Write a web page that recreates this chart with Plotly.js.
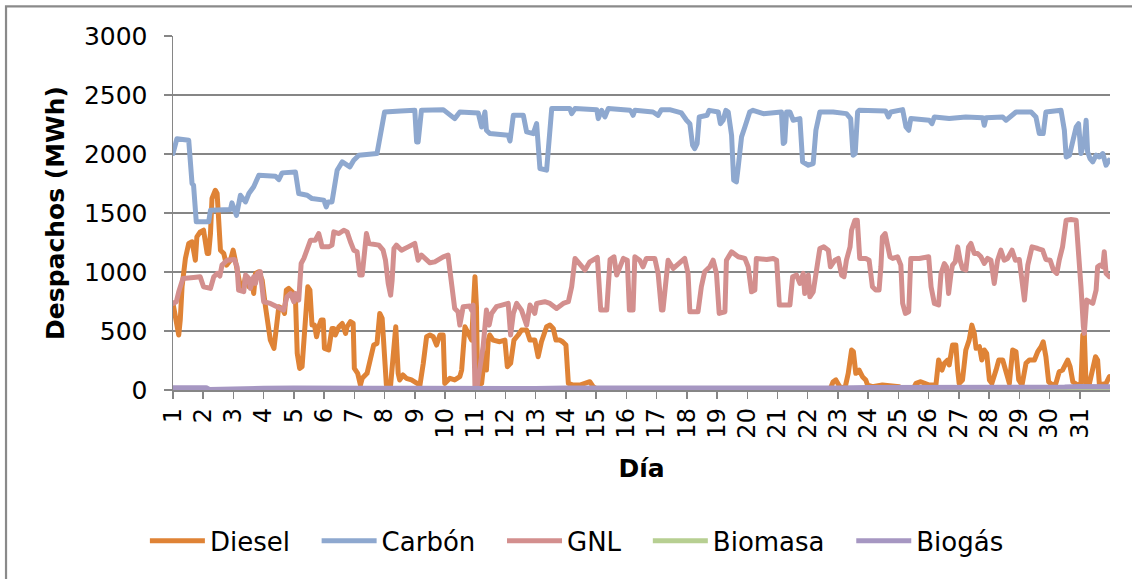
<!DOCTYPE html>
<html>
<head>
<meta charset="utf-8">
<script src="https://cdn.plot.ly/plotly-3.0.1.min.js"></script>
<style>
  html, body { margin: 0; padding: 0; background: #ffffff; }
  #chart { width: 1132px; height: 579px; }
  #chart .scatterlayer path.js-line { stroke-linejoin: round; stroke-linecap: round; }
</style>
</head>
<body>
<div id="chart"></div>
<script>
// Despachos horarios por tecnología durante el mes (eje x en días)

const dias = [1,2,3,4,5,6,7,8,9,10,11,12,13,14,15,16,17,18,19,20,21,22,23,24,25,26,27,28,29,30,31];

const diaDiesel = [1.00,1.04,1.13,1.19,1.24,1.30,1.41,1.52,1.63,1.68,1.74,1.79,1.90,2.01,2.13,2.18,2.24,2.29,2.40,2.46,2.51,2.57,2.68,2.77,2.90,2.99,3.06,3.17,3.23,3.34,3.40,3.51,3.62,3.67,3.73,3.84,3.95,4.06,4.11,4.22,4.34,4.42,4.50,4.61,4.69,4.75,4.83,4.94,5.05,5.11,5.19,5.27,5.38,5.46,5.53,5.60,5.68,5.75,5.82,5.90,5.97,6.01,6.15,6.26,6.32,6.37,6.49,6.60,6.71,6.76,6.87,6.96,7.00,7.11,7.20,7.26,7.42,7.53,7.64,7.75,7.84,7.92,8.00,8.06,8.20,8.28,8.37,8.45,8.50,8.61,8.72,8.89,9.06,9.17,9.28,9.39,9.50,9.61,9.72,9.83,9.94,9.99,10.16,10.32,10.49,10.55,10.66,10.77,10.88,10.99,11.04,11.08,11.21,11.32,11.37,11.43,11.48,11.59,11.81,11.98,12.06,12.17,12.28,12.42,12.53,12.70,12.81,12.97,13.08,13.19,13.36,13.47,13.58,13.67,13.80,13.89,14.00,14.08,14.24,14.46,14.68,14.79,14.90,15.07,16,17,18,19,20,21,22,22.73,22.84,22.93,23.06,23.23,23.34,23.45,23.51,23.59,23.70,23.81,23.92,23.98,24.14,24.47,25.03,25.14,25.47,25.58,25.74,26.02,26.24,26.33,26.44,26.52,26.63,26.68,26.79,26.90,26.96,27.01,27.12,27.23,27.34,27.43,27.51,27.57,27.68,27.76,27.84,27.92,28.01,28.09,28.23,28.32,28.45,28.56,28.67,28.78,28.89,28.98,29.09,29.22,29.33,29.50,29.61,29.72,29.79,29.88,29.97,30.10,30.21,30.32,30.43,30.60,30.68,30.77,30.93,31.04,31.10,31.15,31.21,31.32,31.43,31.52,31.59,31.65,31.87,31.93,31.98];
const mwhDiesel = [734,677,494,466,593,875,1115,1242,1256,1157,1100,1298,1340,1354,1157,1157,1326,1623,1693,1665,1439,1185,1157,1058,1100,1185,1100,945,875,889,960,875,903,818,988,1002,931,706,607,423,353,536,706,691,649,847,861,833,790,310,183,197,677,875,847,550,550,451,536,593,593,353,339,522,522,466,536,564,480,536,579,564,183,141,42,99,141,254,381,395,649,607,310,42,42,310,536,141,85,127,99,85,56,42,226,451,466,451,381,466,466,56,99,85,113,169,536,480,423,960,706,28,56,310,169,423,466,423,409,423,198,226,423,466,508,508,423,423,282,409,536,550,522,423,423,409,381,56,42,42,56,70,28,0,0,0,0,0,0,0,0,0,70,85,28,14,141,339,325,141,169,113,85,42,28,42,28,0,0,56,70,42,42,254,169,226,254,212,381,381,169,56,85,339,423,550,480,353,367,254,339,310,85,56,169,254,254,141,56,339,325,85,42,226,254,254,325,367,409,282,70,42,56,155,169,254,198,70,42,56,466,480,28,56,169,282,254,42,56,99,113];

const diaCarbon = [1.00,1.13,1.52,1.63,1.68,1.77,2.18,2.24,2.90,2.95,3.10,3.23,3.40,3.51,3.67,3.84,4.39,4.50,4.61,5.05,5.16,5.44,5.60,5.99,6.07,6.13,6.26,6.43,6.60,6.85,6.98,7.15,7.75,7.87,8.00,8.53,9.00,9.06,9.11,9.22,9.94,10.32,10.49,11.10,11.21,11.32,11.37,11.48,12.09,12.15,12.26,12.59,12.70,12.92,13.03,13.14,13.36,13.53,14.13,14.19,14.30,15.02,15.07,15.18,15.29,15.40,16.12,16.17,16.22,16.28,16.88,17.05,17.16,17.43,17.82,17.99,18.10,18.19,18.26,18.34,18.41,18.67,18.74,19.04,19.11,19.20,19.29,19.37,19.48,19.55,19.64,19.70,19.81,19.92,20.08,20.19,20.53,21.13,21.19,21.24,21.30,21.41,21.52,21.74,21.83,22.02,22.18,22.27,22.40,22.84,23.28,23.42,23.50,23.57,23.65,23.70,24.58,24.67,24.75,25.14,25.25,25.34,25.41,26.02,26.11,26.19,26.68,27.23,27.79,27.84,27.90,28.45,28.56,28.89,29.39,29.55,29.66,29.79,29.88,30.38,30.49,30.55,30.66,30.88,30.96,31.04,31.15,31.21,31.26,31.34,31.43,31.54,31.65,31.76,31.87,31.97];
const mwhCarbon = [2004,2130,2116,1750,1736,1425,1425,1524,1530,1586,1480,1650,1594,1665,1722,1820,1812,1783,1840,1848,1665,1651,1622,1609,1552,1594,1594,1862,1933,1891,1947,1990,2004,2201,2356,2365,2370,2102,2102,2370,2376,2300,2356,2347,2229,2356,2201,2173,2159,2110,2328,2328,2187,2173,2258,1877,1863,2385,2385,2342,2385,2376,2300,2370,2314,2385,2370,2356,2328,2370,2356,2328,2376,2376,2348,2286,2257,2074,2046,2088,2314,2328,2370,2356,2257,2286,2370,2356,2159,1778,1764,1891,2145,2229,2356,2370,2342,2356,2088,2102,2356,2356,2286,2300,1933,1905,1919,2201,2356,2356,2342,2300,1990,2004,2356,2370,2365,2314,2356,2376,2229,2201,2300,2286,2257,2314,2300,2314,2308,2243,2308,2314,2286,2356,2356,2314,2173,2173,2356,2370,2201,1975,1990,2229,2257,2004,2102,2286,2018,1961,1933,1990,1975,2004,1905,1947];

const diaGNL = [1.00,1.11,1.19,1.26,1.33,1.68,1.90,2.01,2.24,2.35,2.46,2.55,2.62,2.79,3.03,3.12,3.17,3.34,3.40,3.51,3.56,3.67,3.73,3.79,3.89,4.00,4.22,4.44,4.66,4.77,4.89,5.00,5.05,5.16,5.24,5.33,5.55,5.71,5.82,5.88,5.93,6.15,6.26,6.32,6.49,6.65,6.76,6.87,6.98,7.09,7.18,7.26,7.34,7.40,7.48,7.81,7.95,8.03,8.12,8.20,8.25,8.31,8.39,8.56,8.78,9.00,9.11,9.22,9.50,9.66,9.94,10.10,10.16,10.27,10.32,10.43,10.49,10.60,10.82,10.88,10.93,10.99,11.06,11.26,11.37,11.46,11.54,11.70,11.98,12.09,12.17,12.26,12.37,12.53,12.70,12.81,12.97,13.03,13.30,13.47,13.69,13.91,14.08,14.19,14.30,14.52,14.63,14.79,15.04,15.15,15.35,15.46,15.59,15.68,15.79,15.90,16.03,16.10,16.22,16.28,16.44,16.55,16.66,16.94,17.05,17.16,17.21,17.38,17.55,17.71,17.93,18.04,18.10,18.37,18.48,18.59,18.76,18.87,18.98,19.07,19.26,19.31,19.48,19.70,19.92,20.03,20.14,20.25,20.30,20.64,20.86,20.97,21.06,21.41,21.50,21.63,21.74,21.85,21.90,22.02,22.07,22.18,22.29,22.40,22.53,22.68,22.75,22.90,23.01,23.12,23.20,23.28,23.40,23.45,23.56,23.64,23.72,23.92,24.03,24.14,24.25,24.36,24.42,24.47,24.56,24.64,24.72,24.81,24.97,25.08,25.14,25.23,25.34,25.41,25.69,26.00,26.08,26.19,26.33,26.41,26.52,26.59,26.66,26.74,26.79,26.88,26.96,27.04,27.12,27.23,27.32,27.40,27.51,27.62,27.73,27.84,27.95,28.06,28.17,28.28,28.39,28.50,28.61,28.76,28.87,29.00,29.09,29.17,29.28,29.42,29.61,29.77,29.88,30.02,30.13,30.24,30.32,30.43,30.55,30.71,30.88,30.96,31.04,31.12,31.15,31.23,31.32,31.43,31.54,31.59,31.67,31.76,31.81,31.87,31.98];
const mwhGNL = [734,748,832,875,945,953,959,875,861,960,988,966,1058,1100,1106,1044,847,833,974,945,861,960,903,988,1002,748,734,706,677,790,818,748,818,762,1072,1115,1270,1270,1326,1270,1213,1213,1228,1340,1326,1354,1340,1256,1185,1171,974,974,1157,1326,1242,1228,1185,1100,903,804,931,1199,1228,1185,1213,1242,1100,1143,1078,1086,1129,1143,1016,762,691,663,550,706,711,677,720,28,28,367,677,550,649,706,720,734,466,649,734,677,550,720,649,734,748,734,691,734,748,875,1115,1044,1016,1086,1123,677,677,1106,1129,974,1044,1115,1100,677,677,1129,1100,1044,1115,1115,988,677,677,1100,1030,1072,1115,988,663,663,875,1002,1044,1100,988,649,663,1100,1171,1129,1115,1044,832,847,1115,1106,1115,1100,720,720,960,974,903,988,818,974,790,832,988,1199,1213,1185,1044,1100,1115,974,960,1100,1213,1354,1439,1439,1115,1115,1100,875,847,847,1044,1298,1326,1213,1129,1115,1129,1058,734,649,663,1115,1115,1129,875,734,720,988,1072,1044,818,988,1058,1086,1213,1100,1030,1016,1213,1242,1157,1157,1129,1072,1115,1100,903,1100,1185,1100,1115,1185,1100,1106,931,762,1058,1213,1199,1185,1106,1100,1016,988,1100,1213,1439,1445,1439,1213,875,536,480,762,748,734,847,1044,1058,1044,1171,988,960];

const diaBiomasa = [1,4,8,12,16,20,24,28,32];
const mwhBiomasa = [0,0,0,0,0,0,0,0,0];

const diaBiogas = [1,1.5,2.1,2.2,3.0,3.1,4,5,6,7,7.3,7.6,9,10,10.4,11,11.3,12,13,14,15,16,17,18,19,19.3,20,21,22,22.5,23,24,25,26,27,28,29,29.5,30,30.5,31,32];
const mwhBiogas = [20,20,20,5,5,12,15,18,15,15,8,15,15,14,8,8,15,15,12,18,18,15,15,12,14,8,15,18,15,14,18,22,22,25,28,25,26,22,18,25,30,28];

const FONT = '"DejaVu Sans", Verdana, sans-serif';
const GRIS = '#868686';
// separación extra tras cada rótulo de la leyenda
const HUECO = '\u00a0\u00a0\u2009';

function serie(nombre, x, y, color) {
  return {
    type: 'scatter', mode: 'lines', name: nombre + HUECO, x: x, y: y,
    line: { color: color, width: 5, shape: 'linear' },
    hoverinfo: 'x+y'
  };
}

const datos = [
  serie('Diesel', diaDiesel, mwhDiesel, '#DF8336'),
  serie('Carbón', diaCarbon, mwhCarbon, '#8EA8CF'),
  serie('GNL', diaGNL, mwhGNL, '#D38F8E'),
  serie('Biomasa', diaBiomasa, mwhBiomasa, '#B7CF92'),
  serie('Biogás', diaBiogas, mwhBiogas, '#A697C2')
];

const layout = {
  width: 1132, height: 579,
  margin: { l: 173, r: 22, t: 36, b: 189 },
  paper_bgcolor: '#ffffff', plot_bgcolor: '#ffffff',
  font: { family: FONT, color: '#000000', size: 25 },
  showlegend: true,
  xaxis: {
    range: [1, 32], tickmode: 'array', tickvals: dias, ticktext: dias.map(String),
    tickangle: -90, ticks: 'outside', ticklen: 7, tickwidth: 1.5, tickcolor: GRIS,
    showline: true, linecolor: GRIS, linewidth: 1.5,
    showgrid: false, zeroline: false,
    tickfont: { family: FONT, size: 24, color: '#000000' },
    title: { text: '<b>Día</b>', font: { family: FONT, size: 25 }, standoff: 22 },
    automargin: false
  },
  yaxis: {
    range: [0, 3000], dtick: 500, tick0: 0,
    ticks: 'outside', ticklen: 8, tickwidth: 1.5, tickcolor: GRIS,
    showline: true, linecolor: GRIS, linewidth: 1.5,
    showgrid: true, gridcolor: GRIS, gridwidth: 1.5, zeroline: false,
    tickfont: { family: FONT, size: 25, color: '#000000' },
    ticklabelstandoff: 11,
    title: { text: '<b>Despachos (MWh)</b>', font: { family: FONT, size: 25 }, standoff: 12 },
    automargin: false
  },
  legend: {
    orientation: 'h', x: -0.03, xanchor: 'left', y: -0.426, yanchor: 'middle',
    font: { family: FONT, size: 26, color: '#000000' },
    itemwidth: 55, traceorder: 'normal', bgcolor: 'rgba(0,0,0,0)'
  },
  shapes: [{
    type: 'rect', xref: 'paper', yref: 'paper',
    x0: -0.1782, x1: 1.2, y0: -0.8, y1: 1.0838,
    line: { color: '#8a8a8a', width: 2.2 }, fillcolor: 'rgba(0,0,0,0)', layer: 'below'
  }]
};

Plotly.newPlot('chart', datos, layout, { displayModeBar: false, staticPlot: true });
</script>
</body>
</html>
